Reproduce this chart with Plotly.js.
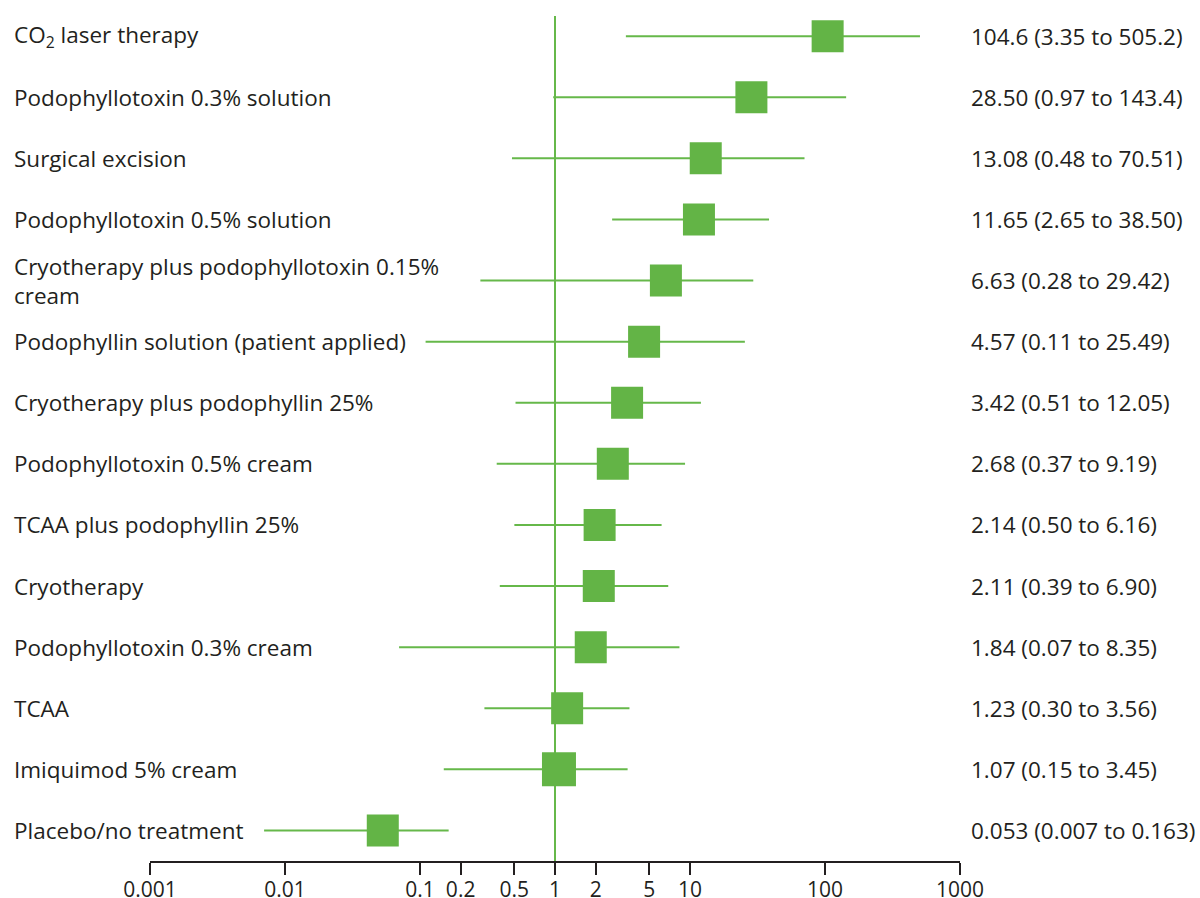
<!DOCTYPE html>
<html>
<head>
<meta charset="utf-8">
<script src="https://cdn.plot.ly/plotly-3.0.1.min.js"></script>
<style>html,body{margin:0;padding:0;background:#fff;}#chart{width:1200px;height:898px;}</style>
</head>
<body>
<div id="chart"></div>
<script>
const treatments = [
  "CO<sub>2</sub> laser therapy",
  "Podophyllotoxin 0.3% solution",
  "Surgical excision",
  "Podophyllotoxin 0.5% solution",
  "Cryotherapy plus podophyllotoxin 0.15%<br>cream",
  "Podophyllin solution (patient applied)",
  "Cryotherapy plus podophyllin 25%",
  "Podophyllotoxin 0.5% cream",
  "TCAA plus podophyllin 25%",
  "Cryotherapy",
  "Podophyllotoxin 0.3% cream",
  "TCAA",
  "Imiquimod 5% cream",
  "Placebo/no treatment"
];
const estimate = [104.6, 28.50, 13.08, 11.65, 6.63, 4.57, 3.42, 2.68, 2.14, 2.11, 1.84, 1.23, 1.07, 0.053];
const lower    = [3.35, 0.97, 0.48, 2.65, 0.28, 0.11, 0.51, 0.37, 0.50, 0.39, 0.07, 0.30, 0.15, 0.007];
const upper    = [505.2, 143.4, 70.51, 38.50, 29.42, 25.49, 12.05, 9.19, 6.16, 6.90, 8.35, 3.56, 3.45, 0.163];
const estText  = ["104.6 (3.35 to 505.2)", "28.50 (0.97 to 143.4)", "13.08 (0.48 to 70.51)", "11.65 (2.65 to 38.50)",
  "6.63 (0.28 to 29.42)", "4.57 (0.11 to 25.49)", "3.42 (0.51 to 12.05)", "2.68 (0.37 to 9.19)",
  "2.14 (0.50 to 6.16)", "2.11 (0.39 to 6.90)", "1.84 (0.07 to 8.35)", "1.23 (0.30 to 3.56)",
  "1.07 (0.15 to 3.45)", "0.053 (0.007 to 0.163)"];
const tickVals = [0.001, 0.01, 0.1, 0.2, 0.5, 1, 2, 5, 10, 100, 1000];
const tickText = ["0.001", "0.01", "0.1", "0.2", "0.5", "1", "2", "5", "10", "100", "1000"];

const green = "#63b446";
const lineGreen = "#66b84a";
const textColor = "#231f20";
const fontFam = "Open Sans, Noto Sans, sans-serif";
const labelSize = 22.5;
const rows = treatments.map((_, i) => i);

const traces = [];
treatments.forEach((t, i) => {
  traces.push({
    type: "scatter", mode: "lines",
    x: [lower[i], upper[i]], y: [rows[i], rows[i]],
    line: {color: lineGreen, width: 2},
    hoverinfo: "skip", showlegend: false, cliponaxis: false
  });
});
traces.push({
  type: "scatter", mode: "markers",
  x: estimate, y: rows,
  marker: {symbol: "square", size: estimate.map((v, i) => i === 12 ? 34 : 32), color: green, opacity: 1, line: {width: 0}},
  showlegend: false, cliponaxis: false,
  text: treatments, hovertemplate: "%{text}: %{x}<extra></extra>"
});

const annotations = [];
treatments.forEach((t, i) => {
  annotations.push({
    xref: "paper", yref: "y", x: (12 - 150) / 810, y: rows[i],
    xanchor: "left", yanchor: "middle", align: "left",
    text: t, showarrow: false,
    font: {family: fontFam, size: labelSize, color: textColor}
  });
  annotations.push({
    xref: "paper", yref: "y", x: (969 - 150) / 810, y: rows[i],
    xanchor: "left", yanchor: "middle", align: "left",
    text: estText[i], showarrow: false,
    font: {family: fontFam, size: labelSize, color: textColor}
  });
});

const layout = {
  width: 1200, height: 898,
  margin: {l: 150, r: 240, t: 16, b: 37},
  paper_bgcolor: "#ffffff", plot_bgcolor: "#ffffff",
  font: {family: fontFam, color: textColor},
  xaxis: {
    type: "log", range: [-3, 3],
    tickvals: tickVals, ticktext: tickText,
    ticks: "outside", ticklen: 12, tickwidth: 2, tickcolor: "#231f20",
    ticklabelstandoff: -3,
    showline: true, linewidth: 2, linecolor: "#231f20",
    showgrid: false, zeroline: false,
    tickfont: {family: fontFam, size: 21, color: textColor},
    fixedrange: true
  },
  yaxis: {
    range: [13.5, -0.33], visible: false, showgrid: false, zeroline: false, fixedrange: true
  },
  shapes: [{
    type: "line", xref: "x", yref: "paper", x0: 1, x1: 1, y0: 0, y1: 1,
    line: {color: lineGreen, width: 2}, layer: "below"
  }],
  annotations: annotations
};

Plotly.newPlot("chart", traces, layout, {displayModeBar: false, staticPlot: true});
</script>
</body>
</html>
